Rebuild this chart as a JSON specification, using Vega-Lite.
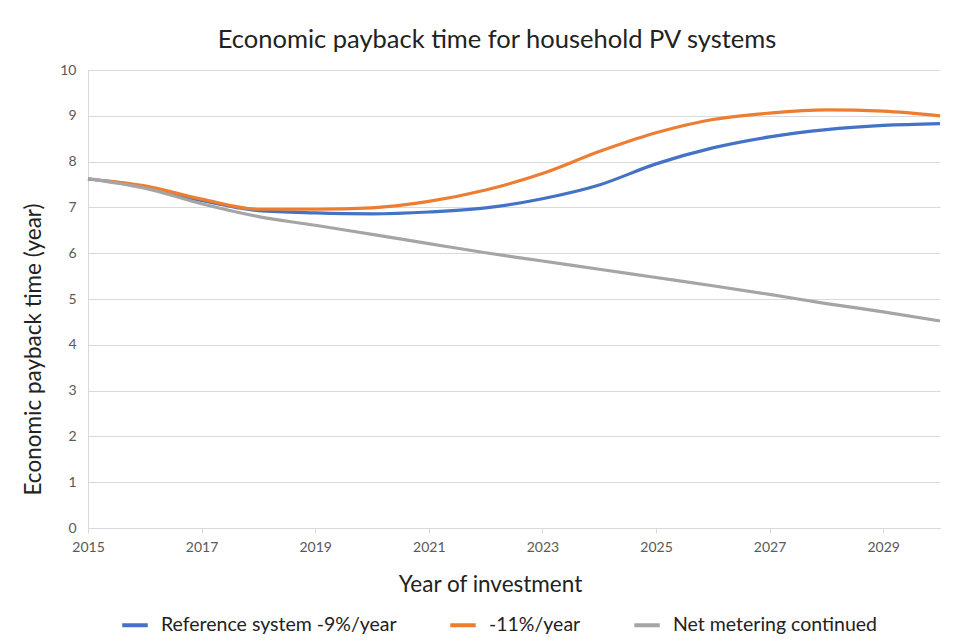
{
  "$schema": "https://vega.github.io/schema/vega-lite/v6.json",
  "autosize": {"type": "none"},
  "padding": {"left": 88, "top": 70, "right": 21, "bottom": 114},
  "width": 852,
  "height": 458,
  "background": "white",
  "title": {
    "text": "Economic payback time for household PV systems",
    "font": "Lato",
    "fontSize": 25.5,
    "fontWeight": "normal",
    "color": "#222222",
    "anchor": "middle",
    "dx": -17,
    "offset": 10
  },
  "data": {
    "values": [
      {"year": 2015, "series": "Reference system -9%/year", "value": 7.62},
      {"year": 2016, "series": "Reference system -9%/year", "value": 7.45},
      {"year": 2017, "series": "Reference system -9%/year", "value": 7.15},
      {"year": 2018, "series": "Reference system -9%/year", "value": 6.93},
      {"year": 2019, "series": "Reference system -9%/year", "value": 6.88},
      {"year": 2020, "series": "Reference system -9%/year", "value": 6.86},
      {"year": 2021, "series": "Reference system -9%/year", "value": 6.9},
      {"year": 2022, "series": "Reference system -9%/year", "value": 6.99},
      {"year": 2023, "series": "Reference system -9%/year", "value": 7.19},
      {"year": 2024, "series": "Reference system -9%/year", "value": 7.49},
      {"year": 2025, "series": "Reference system -9%/year", "value": 7.95},
      {"year": 2026, "series": "Reference system -9%/year", "value": 8.3},
      {"year": 2027, "series": "Reference system -9%/year", "value": 8.54},
      {"year": 2028, "series": "Reference system -9%/year", "value": 8.7},
      {"year": 2029, "series": "Reference system -9%/year", "value": 8.79},
      {"year": 2030, "series": "Reference system -9%/year", "value": 8.83},
      {"year": 2015, "series": "-11%/year", "value": 7.62},
      {"year": 2016, "series": "-11%/year", "value": 7.47},
      {"year": 2017, "series": "-11%/year", "value": 7.18},
      {"year": 2018, "series": "-11%/year", "value": 6.96},
      {"year": 2019, "series": "-11%/year", "value": 6.96},
      {"year": 2020, "series": "-11%/year", "value": 6.99},
      {"year": 2021, "series": "-11%/year", "value": 7.13},
      {"year": 2022, "series": "-11%/year", "value": 7.38},
      {"year": 2023, "series": "-11%/year", "value": 7.74},
      {"year": 2024, "series": "-11%/year", "value": 8.22},
      {"year": 2025, "series": "-11%/year", "value": 8.63},
      {"year": 2026, "series": "-11%/year", "value": 8.92},
      {"year": 2027, "series": "-11%/year", "value": 9.06},
      {"year": 2028, "series": "-11%/year", "value": 9.13},
      {"year": 2029, "series": "-11%/year", "value": 9.1},
      {"year": 2030, "series": "-11%/year", "value": 9.0},
      {"year": 2015, "series": "Net metering continued", "value": 7.63},
      {"year": 2016, "series": "Net metering continued", "value": 7.42},
      {"year": 2017, "series": "Net metering continued", "value": 7.08},
      {"year": 2018, "series": "Net metering continued", "value": 6.8},
      {"year": 2019, "series": "Net metering continued", "value": 6.61},
      {"year": 2020, "series": "Net metering continued", "value": 6.41},
      {"year": 2021, "series": "Net metering continued", "value": 6.21},
      {"year": 2022, "series": "Net metering continued", "value": 6.01},
      {"year": 2023, "series": "Net metering continued", "value": 5.83},
      {"year": 2024, "series": "Net metering continued", "value": 5.65},
      {"year": 2025, "series": "Net metering continued", "value": 5.47},
      {"year": 2026, "series": "Net metering continued", "value": 5.29},
      {"year": 2027, "series": "Net metering continued", "value": 5.1},
      {"year": 2028, "series": "Net metering continued", "value": 4.9},
      {"year": 2029, "series": "Net metering continued", "value": 4.72},
      {"year": 2030, "series": "Net metering continued", "value": 4.52}
    ]
  },
  "mark": {"type": "line", "interpolate": "monotone", "strokeWidth": 3.2},
  "encoding": {
    "x": {
      "field": "year",
      "type": "quantitative",
      "scale": {"domain": [2015, 2030], "nice": false, "zero": false},
      "axis": {
        "title": "Year of investment",
        "values": [2015, 2017, 2019, 2021, 2023, 2025, 2027, 2029],
        "format": "d",
        "grid": false,
        "labelFlush": false,
        "domainColor": "#D9D9D9",
        "tickColor": "#D9D9D9",
        "tickSize": 5,
        "labelFont": "Lato",
        "labelFontSize": 14,
        "labelColor": "#595959",
        "labelPadding": 7,
        "titleFont": "Lato",
        "titleFontSize": 22.5,
        "titleFontWeight": "normal",
        "titleColor": "#222222",
        "titleX": 402,
        "titlePadding": 19
      }
    },
    "y": {
      "field": "value",
      "type": "quantitative",
      "scale": {"domain": [0, 10], "nice": false},
      "axis": {
        "title": "Economic payback time (year)",
        "values": [0, 1, 2, 3, 4, 5, 6, 7, 8, 9, 10],
        "grid": true,
        "gridColor": "#D9D9D9",
        "gridWidth": 1.2,
        "domainColor": "#D9D9D9",
        "ticks": false,
        "labelFont": "Lato",
        "labelFontSize": 14,
        "labelColor": "#595959",
        "labelPadding": 12,
        "titleFont": "Lato",
        "titleFontSize": 22.5,
        "titleFontWeight": "normal",
        "titleColor": "#222222",
        "titleY": 279,
        "titlePadding": 14
      }
    },
    "color": {
      "field": "series",
      "type": "nominal",
      "scale": {
        "domain": ["Reference system -9%/year", "-11%/year", "Net metering continued"],
        "range": ["#4472C4", "#ED7D31", "#A5A5A5"]
      },
      "legend": {
        "title": null,
        "orient": "none",
        "direction": "horizontal",
        "legendX": 32,
        "legendY": 540,
        "symbolType": "stroke",
        "symbolStrokeWidth": 4,
        "symbolSize": 650,
        "labelFont": "Lato",
        "labelFontSize": 19.5,
        "labelLimit": 0,
        "labelColor": "#222222",
        "columnPadding": 45,
        "labelOffset": 11
      }
    }
  },
  "config": {"view": {"stroke": null}}
}
